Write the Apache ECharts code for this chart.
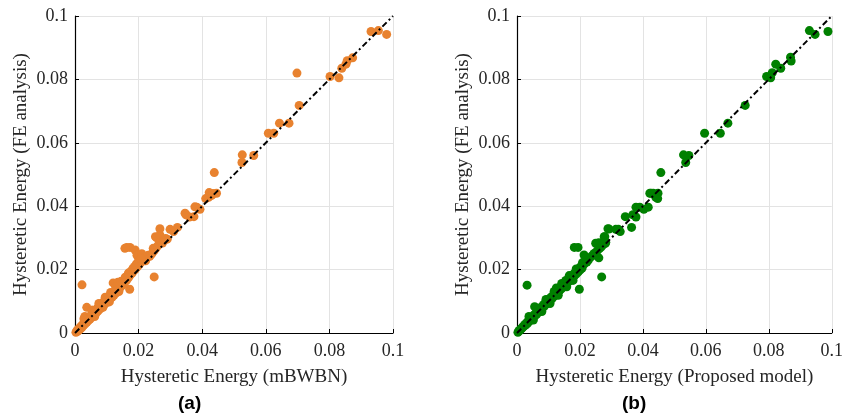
<!DOCTYPE html>
<html><head><meta charset="utf-8">
<script src="https://cdn.jsdelivr.net/npm/echarts@6/dist/echarts.min.js"></script>
<style>html,body{margin:0;padding:0;background:#fff}#c{width:846px;height:420px}</style>
</head><body><div id="c"></div>
<script>
// Panel (a): mBWBN vs FE
const mbwbnX = [0.0931,0.0954,0.098,0.0698,0.0802,0.083,0.0839,0.0852,0.0856,0.0873,0.0705,0.0643,0.0673,0.0608,0.0625,0.0526,0.0562,0.0525,0.0438,0.0445,0.0422,0.043,0.0411,0.042,0.0393,0.0383,0.0374,0.0349,0.036,0.0267,0.0299,0.0322,0.031,0.0253,0.0346,0.0377,0.0434,
 0.0022,0.0037,0.0172,0.0249,0.0163,0.0173,0.0189,0.0157,0.0246,0.0257,0.0267,0.012,0.0135,0.0195,0.021,0.0222,0.0053,0.0031,
 0.0003,0.0006,0.0008,0.001,0.0012,0.0015,0.0017,0.002,0.0022,0.0025,0.0027,0.003,0.0032,0.0035,0.0037,0.004,0.0042,0.0045,0.0047,0.005,0.0052,0.0055,0.0058,0.006,0.0063,0.0066,0.0068,0.007,0.0073,0.0076,0.0079,0.0082,0.0085,0.0088,0.009,0.0093,0.0096,0.01,0.0103,0.0106,0.011,0.0113,0.0117,0.012,0.0123,0.0127,0.013,0.0133,0.0137,0.014,0.0143,0.0147,0.015,0.0153,0.0156,0.0159,0.0162,0.0165,0.0168,0.017,0.0173,0.0176,0.0179,0.0182,0.0185,0.0188,0.019,0.0193,0.0196,0.0199,0.0202,0.0205,0.0208,0.0211,0.0215,0.0218,0.0222,0.0226,0.023,0.0235,0.024,0.0245,0.025,0.0255,0.026,0.0265,0.027,0.0275,0.028,0.0285,0.029,
 0.0028,0.0055,0.0075,0.0095,0.0112,0.0128,0.0145,0.0158,0.0168,0.0184,0.0198,0.0208,0.0062,0.0088,0.0108,0.0138];
const feA = [0.0951,0.0954,0.0942,0.082,0.0809,0.0805,0.0835,0.0848,0.0859,0.0868,0.0718,0.0662,0.0662,0.063,0.063,0.0562,0.056,0.0538,0.0506,0.0441,0.0443,0.0434,0.0424,0.0428,0.039,0.0397,0.0367,0.0373,0.0366,0.0329,0.0327,0.0333,0.032,0.0304,0.0378,0.0398,0.044,
 0.0152,0.0081,0.0138,0.0177,0.027,0.027,0.0262,0.0267,0.0267,0.03,0.0309,0.0158,0.016,0.0245,0.025,0.0228,0.0072,0.0052,
 0.0002,0.0007,0.0005,0.0012,0.0009,0.0017,0.0013,0.0022,0.0018,0.0028,0.0024,0.0033,0.0029,0.004,0.0034,0.0045,0.0039,0.005,0.0044,0.0056,0.0049,0.006,0.0055,0.0066,0.0059,0.0072,0.0065,0.0078,0.007,0.0083,0.0076,0.009,0.0082,0.0096,0.0088,0.0102,0.0094,0.0108,0.0101,0.0112,0.0107,0.0118,0.0113,0.0127,0.012,0.0135,0.0127,0.0142,0.0134,0.015,0.0145,0.0157,0.0151,0.0165,0.0159,0.0172,0.0166,0.018,0.0174,0.0188,0.0182,0.0195,0.0188,0.0203,0.0196,0.021,0.0202,0.0218,0.0209,0.0225,0.0216,0.0232,0.0224,0.0238,0.0229,0.0236,0.0241,0.0237,0.0245,0.0242,0.0248,0.0255,0.0262,0.0268,0.0275,0.0281,0.0287,0.0284,0.0292,0.0298,0.0296,
 0.0045,0.0072,0.0093,0.0113,0.0128,0.0145,0.0163,0.0176,0.0189,0.0205,0.0222,0.0233,0.0052,0.0081,0.0098,0.0131];
// Panel (b): Proposed model vs FE
const proposedX = [0.0929,0.0947,0.0988,0.0869,0.0871,0.0822,0.0838,0.0811,0.0793,0.0806,0.0725,0.067,0.0646,0.0596,0.0529,0.0546,0.0536,0.0457,0.0426,0.0448,0.0441,0.0447,0.0417,0.0403,0.0378,0.0368,0.0378,0.0344,0.0364,0.0289,0.0314,0.0322,0.0279,0.0422,0.0433,0.039,0.0328,0.0292,
 0.0032,0.0198,0.0269,0.0182,0.0194,0.025,0.026,0.0277,0.0281,0.0213,0.026,0.0056,0.0125,0.0155,
 0.0003,0.0006,0.0009,0.0012,0.0015,0.0018,0.0021,0.0024,0.0027,0.003,0.0033,0.0036,0.0039,0.0042,0.0045,0.0048,0.0051,0.0054,0.0057,0.006,0.0063,0.0066,0.0069,0.0072,0.0075,0.0078,0.0081,0.0084,0.0087,0.009,0.0093,0.0096,0.0099,0.0102,0.0105,0.0108,0.0111,0.0114,0.0117,0.012,0.0123,0.0126,0.0129,0.0132,0.0135,0.0138,0.0141,0.0144,0.0147,0.015,0.0153,0.0156,0.0159,0.0162,0.0165,0.0168,0.0171,0.0174,0.0177,0.018,0.0183,0.0186,0.0189,0.0192,0.0195,0.0198,0.0201,0.0204,0.0207,0.021,0.0214,0.0218,0.0222,0.0226,0.023,0.0235,0.024,0.0245,0.025,0.0255,0.0262,0.0268,0.0274,0.0282,
 0.0038,0.0065,0.0092,0.0118,0.0142,0.0166,0.0188,0.0208,0.0052,0.0079,0.0105,0.0131,0.0158,0.0178];
const feB = [0.0954,0.0942,0.0951,0.087,0.0858,0.0848,0.0835,0.0821,0.0809,0.0805,0.0718,0.0662,0.063,0.063,0.0562,0.056,0.0538,0.0506,0.0441,0.0441,0.0428,0.0424,0.0397,0.039,0.0397,0.0373,0.0366,0.0367,0.0333,0.0329,0.0327,0.0327,0.0304,0.0441,0.0441,0.0397,0.032,0.0328,
 0.0151,0.0138,0.0177,0.027,0.027,0.0283,0.0285,0.0304,0.0283,0.0246,0.0237,0.0083,0.0142,0.0166,
 0.0002,0.0007,0.0008,0.0013,0.0014,0.0019,0.002,0.0026,0.0025,0.0032,0.003,0.0038,0.0037,0.0044,0.0043,0.005,0.0049,0.0057,0.0054,0.0063,0.006,0.0069,0.0066,0.0076,0.0072,0.0082,0.0079,0.0089,0.0085,0.0095,0.0091,0.0101,0.0097,0.0107,0.0103,0.0113,0.0108,0.0118,0.0115,0.0125,0.012,0.013,0.0127,0.0136,0.0133,0.0142,0.0139,0.015,0.0145,0.0156,0.0151,0.0162,0.0156,0.0168,0.0163,0.0174,0.0169,0.018,0.0175,0.0186,0.0181,0.0193,0.0187,0.0198,0.0193,0.0205,0.0199,0.021,0.0205,0.0215,0.0218,0.0225,0.0224,0.0229,0.0236,0.024,0.0245,0.0251,0.0253,0.026,0.0266,0.0272,0.0279,0.0286,
 0.0052,0.0078,0.0106,0.0131,0.0156,0.0181,0.0202,0.0222,0.0041,0.0068,0.0093,0.0119,0.0146,0.0166];
const diagX = [0, 0.1];
const diagY = [0, 0.1];
const tickValues = [0, 0.02, 0.04, 0.06, 0.08, 0.1];

function zip(a, b) { return a.map((v, i) => [v, b[i]]); }
const fmt = v => (v === 0 ? '0' : String(+v.toFixed(2)));
const serif = '"Liberation Serif", "Times New Roman", serif';

function xAxis(idx, name) {
  return {
    gridIndex: idx, type: 'value', min: tickValues[0], max: tickValues[tickValues.length - 1], interval: 0.02,
    name: name, nameLocation: 'middle', nameGap: 35,
    nameTextStyle: { fontFamily: serif, fontSize: 19, color: '#262626' },
    axisLine: { show: true, lineStyle: { color: '#000', width: 1.2 } },
    axisTick: { show: true, inside: true, length: 4, lineStyle: { color: '#000' } },
    axisLabel: { formatter: fmt, fontFamily: serif, fontSize: 18, color: '#262626', margin: 9 },
    splitLine: { show: true, lineStyle: { color: '#e3e3e3', width: 1 } }
  };
}
function yAxis(idx, name) {
  return {
    gridIndex: idx, type: 'value', min: tickValues[0], max: tickValues[tickValues.length - 1], interval: 0.02,
    name: name, nameLocation: 'middle', nameGap: 44,
    nameTextStyle: { fontFamily: serif, fontSize: 19, color: '#262626' },
    axisLine: { show: true, lineStyle: { color: '#000', width: 1.2 } },
    axisTick: { show: true, inside: true, length: 4, lineStyle: { color: '#000' } },
    axisLabel: { formatter: fmt, fontFamily: serif, fontSize: 18, color: '#262626', margin: 7 },
    splitLine: { show: true, lineStyle: { color: '#e3e3e3', width: 1 } }
  };
}

const chart = echarts.init(document.getElementById('c'), null, { renderer: 'canvas' });
chart.setOption({
  animation: false,
  backgroundColor: '#fff',
  grid: [
    { left: 75, right: 453, top: 16, bottom: 87 },
    { left: 517, right: 10, top: 16, bottom: 87 }
  ],
  xAxis: [xAxis(0, 'Hysteretic Energy (mBWBN)'), xAxis(1, 'Hysteretic Energy (Proposed model)')],
  yAxis: [yAxis(0, 'Hysteretic Energy (FE analysis)'), yAxis(1, 'Hysteretic Energy (FE analysis)')],
  series: [
    { type: 'scatter', xAxisIndex: 0, yAxisIndex: 0, data: zip(mbwbnX, feA), symbolSize: 9,
      itemStyle: { color: '#E8822F', opacity: 1 }, z: 2 },
    { type: 'scatter', xAxisIndex: 1, yAxisIndex: 1, data: zip(proposedX, feB), symbolSize: 9,
      itemStyle: { color: '#008000', opacity: 1 }, z: 2 },
    { type: 'line', xAxisIndex: 0, yAxisIndex: 0, data: zip(diagX, diagY), symbol: 'none',
      lineStyle: { color: '#000', width: 2, type: [6, 3, 2, 3] }, z: 5 },
    { type: 'line', xAxisIndex: 1, yAxisIndex: 1, data: zip(diagX, diagY), symbol: 'none',
      lineStyle: { color: '#000', width: 2, type: [6, 3, 2, 3] }, z: 5 }
  ],
  graphic: [
    { type: 'text', left: 178, top: 394, style: { text: '(a)', font: 'bold 19px "Liberation Sans", sans-serif', fill: '#000' } },
    { type: 'text', left: 622, top: 394, style: { text: '(b)', font: 'bold 19px "Liberation Sans", sans-serif', fill: '#000' } }
  ]
});
</script></body></html>
